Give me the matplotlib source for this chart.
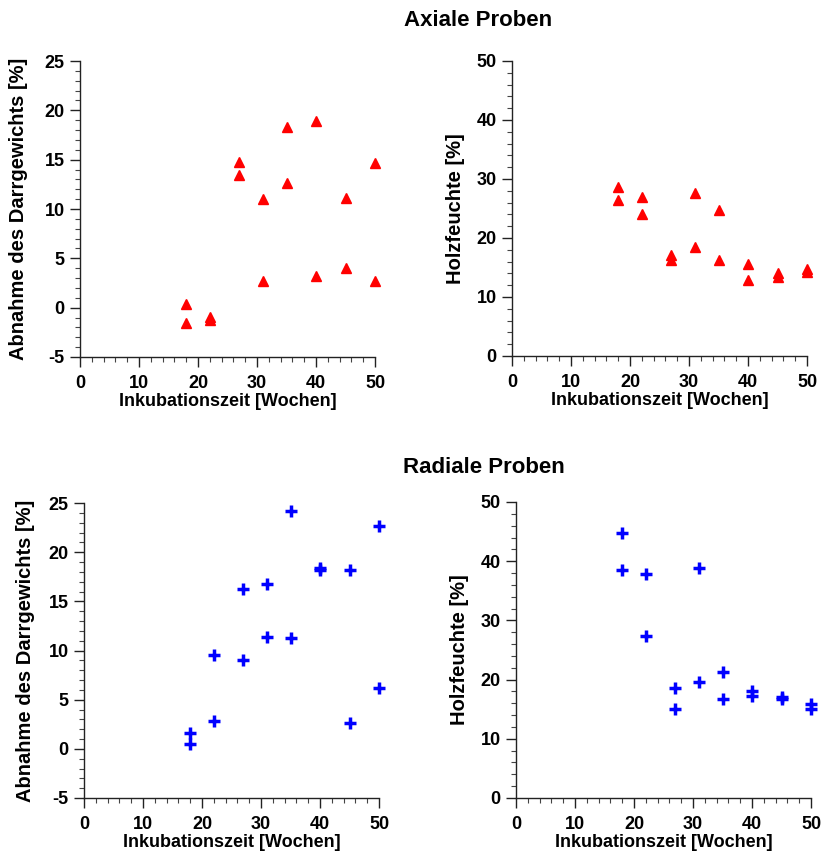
import matplotlib
matplotlib.use("Agg")
import matplotlib.pyplot as plt
from matplotlib.ticker import MultipleLocator

plt.rcParams['font.family'] = ['Liberation Sans', 'DejaVu Sans']
plt.rcParams['font.weight'] = 'bold'
plt.rcParams['axes.unicode_minus'] = False

# Inkubationszeit [Wochen]
wochen = [18, 18, 22, 22, 27, 27, 31, 31, 35, 35, 40, 40, 45, 45, 50, 50]

# Axiale Proben
ax_abnahme = [0.4, -1.6, -0.9, -1.2, 14.8, 13.4, 11.0, 2.7, 18.3, 12.6, 18.9, 3.2, 11.1, 4.0, 14.7, 2.7]
ax_feuchte = [28.7, 26.4, 27.0, 24.1, 17.1, 16.2, 27.7, 18.4, 24.7, 16.2, 15.6, 12.8, 14.0, 13.4, 14.8, 14.2]

# Radiale Proben
rad_abnahme = [1.6, 0.5, 9.5, 2.8, 16.3, 9.0, 16.8, 11.4, 24.2, 11.3, 18.4, 18.2, 18.2, 2.6, 22.7, 6.2]
rad_feuchte = [44.7, 38.5, 37.9, 27.3, 18.5, 15.0, 38.9, 19.6, 21.3, 16.7, 18.0, 17.2, 17.0, 16.8, 15.9, 15.0]

W, H = 822, 858
fig = plt.figure(figsize=(W / 100, H / 100), dpi=100)


def make_axes(left, right, top, bottom):
    return fig.add_axes((left / W, 1 - bottom / H, (right - left) / W, (bottom - top) / H))


def style(ax, ylim, ymajor, yminor, ylabel, ypad):
    ax.set_xlim(0, 50)
    ax.set_ylim(*ylim)
    ax.xaxis.set_major_locator(MultipleLocator(10))
    ax.xaxis.set_minor_locator(MultipleLocator(2))
    ax.yaxis.set_major_locator(MultipleLocator(ymajor))
    ax.yaxis.set_minor_locator(MultipleLocator(yminor))
    for s in ['top', 'right']:
        ax.spines[s].set_visible(False)
    for s in ['left', 'bottom']:
        ax.spines[s].set_linewidth(1.0)
        ax.spines[s].set_color('#222222')
    ax.tick_params(which='major', length=7, width=1.0, color='#222222',
                   labelsize=13, pad=4)
    ax.tick_params(which='minor', length=3.5, width=0.8, color='#444444')
    ax.tick_params(axis='x', which='major', pad=6)
    for lab in ax.get_xticklabels() + ax.get_yticklabels():
        lab.set_fontweight('bold')
    ax.set_xlabel('Inkubationszeit [Wochen]', fontsize=13, fontweight='bold', labelpad=1)
    ax.set_ylabel(ylabel, fontsize=14.5, fontweight='bold', labelpad=ypad)
    ax.patch.set_visible(False)


ax1 = make_axes(80, 375, 61, 357)
ax1.plot(wochen, ax_abnahme, '^', color='#ff0000', markersize=7, clip_on=False)
style(ax1, (-5, 25), 5, 1, 'Abnahme des Darrgewichts [%]', 12)

ax2 = make_axes(512, 807, 61, 356)
ax2.plot(wochen, ax_feuchte, '^', color='#ff0000', markersize=7, clip_on=False)
style(ax2, (0, 50), 10, 2, 'Holzfeuchte [%]', 8)

ax3 = make_axes(84, 379, 503, 798)
ax3.plot(wochen, rad_abnahme, '+', color='#0000ff', markersize=8, markeredgewidth=2.5, clip_on=False)
style(ax3, (-5, 25), 5, 1, 'Abnahme des Darrgewichts [%]', 10)

ax4 = make_axes(516, 811, 502, 798)
ax4.plot(wochen, rad_feuchte, '+', color='#0000ff', markersize=8, markeredgewidth=2.5, clip_on=False)
style(ax4, (0, 50), 10, 2, 'Holzfeuchte [%]', 8)

fig.text(478 / W, 1 - 20 / H, 'Axiale Proben', ha='center', va='center',
         fontsize=16, fontweight='bold')
fig.text(484 / W, 1 - 468 / H, 'Radiale Proben', ha='center', va='center',
         fontsize=16, fontweight='bold')

fig.savefig('out.png', dpi=100, facecolor='white')
